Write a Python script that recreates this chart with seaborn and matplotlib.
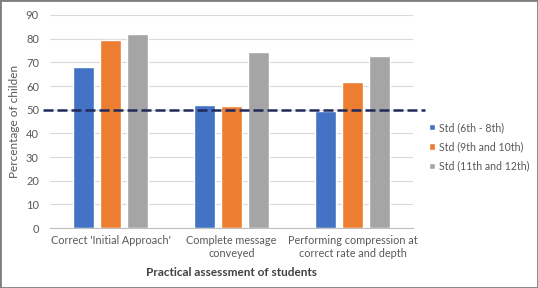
import pandas as pd
import seaborn as sns
import matplotlib.pyplot as plt
from matplotlib.patches import Rectangle

categories = ["Correct 'Initial Approach'", "Complete message\nconveyed",
              "Performing compression at\ncorrect rate and depth"]
groups = ["Std (6th - 8th)", "Std (9th and 10th)", "Std (11th and 12th)"]
std_6_8 = [68, 52, 49.5]
std_9_10 = [79.5, 51.5, 61.5]
std_11_12 = [82, 74.5, 72.5]
colors = ["#4472C4", "#ED7D31", "#A5A5A5"]

rows = []
for g, vals in zip(groups, [std_6_8, std_9_10, std_11_12]):
    for c, v in zip(categories, vals):
        rows.append({"cat": c, "group": g, "value": v})
df = pd.DataFrame(rows)

sns.set_style("white")
plt.rcParams['font.family'] = ['Lato', 'DejaVu Sans']

fig = plt.figure(figsize=(5.38, 2.88), dpi=100)
ax = fig.add_axes([0.093, 0.208, 0.675, 0.74])

sns.barplot(data=df, x="cat", y="value", hue="group", palette=colors,
            width=0.67, gap=0.22, ax=ax, saturation=1)

ax.set_ylim(0, 90)
ax.set_xlim(-0.5, 2.5)
ax.set_yticks(range(0, 91, 10))
ax.yaxis.grid(True, color="#d9d9d9", lw=0.8)
ax.set_axisbelow(True)
for s in ["top", "right", "left"]:
    ax.spines[s].set_visible(False)
ax.spines["bottom"].set_color("#bfbfbf")
ax.tick_params(axis="y", length=0, labelsize=8, labelcolor="#595959", pad=8)
ax.tick_params(axis="x", length=0, labelsize=7.8, labelcolor="#595959", pad=5)

# small ticks at category boundaries
ax.set_xticks([-0.5, 0.5, 1.5, 2.5], minor=True)
ax.tick_params(axis="x", which="minor", length=3, color="#bfbfbf")

ax.axhline(50, xmin=-0.02, xmax=1.033, color="#1f2a5c", lw=1.8,
           ls=(0, (4, 1.6)), clip_on=False, zorder=5)

ax.set_ylabel("Percentage of childen", fontsize=8.5, color="#595959")
ax.set_xlabel("Practical assessment of students", fontsize=8.5,
              fontweight="bold", color="#404040", labelpad=6)

ax.legend(loc="upper left", bbox_to_anchor=(0.78, 0.61),
          bbox_transform=fig.transFigure, frameon=False, fontsize=7.6,
          handlelength=0.6, handleheight=0.6, handletextpad=0.35,
          labelspacing=0.8, labelcolor="#595959")

fig.patches.append(Rectangle((0, 0), 1, 1, transform=fig.transFigure,
                             fill=False, edgecolor="#7f7f7f", lw=2))

fig.savefig("out.png", dpi=100)
